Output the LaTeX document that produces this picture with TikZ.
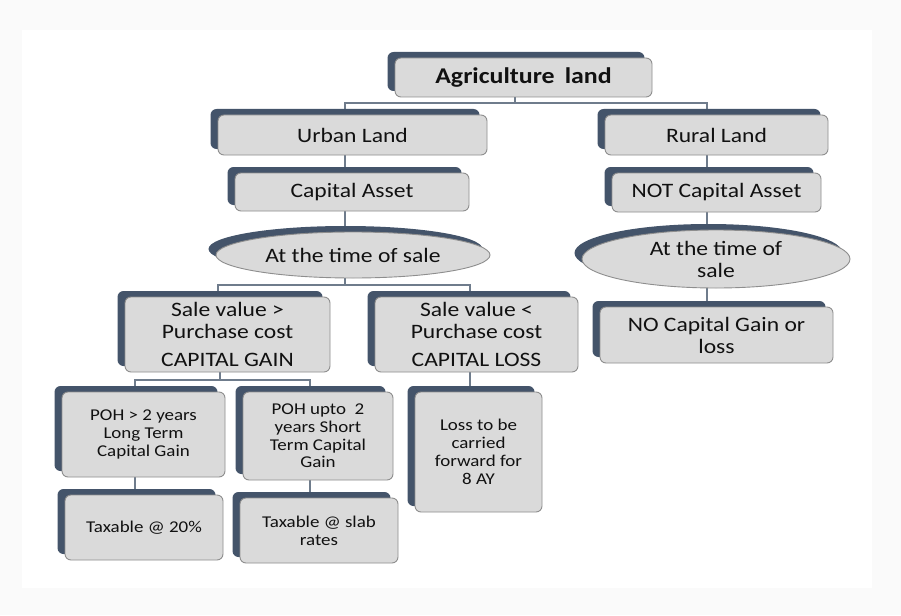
\documentclass[tikz,border=0pt]{standalone}
\usepackage{fontspec}
\setmainfont{Carlito}[FakeStretch=1.15]
\usetikzlibrary{shadows,backgrounds,shapes.geometric}
\definecolor{shadowc}{HTML}{44546A}
\definecolor{boxfill}{HTML}{DADADA}
\definecolor{boxline}{HTML}{8E8E8E}
\definecolor{linec}{HTML}{6F7C8C}
\definecolor{txt}{HTML}{111111}
\tikzset{
 base/.style={draw=boxline, line width=0.9pt, fill=boxfill, text=txt, align=center, inner sep=0pt,
   general shadow={fill=shadowc, shadow xshift=-7.5pt, shadow yshift=6pt}},
 box/.style={base, rectangle, rounded corners=6pt},
 oval/.style={base, ellipse},
 big/.style={font=\fontsize{20.5}{22}\selectfont},
 small/.style={font=\fontsize{16.5}{17.8}\selectfont},
 conn/.style={draw=linec, line width=1.1pt},
}
\begin{document}
\begin{tikzpicture}[x=1pt,y=-1pt]
\useasboundingbox (0,0) rectangle (901,615);
% nodes
\node[box, font=\fontsize{22.5}{24}\selectfont\bfseries, minimum width=257, minimum height=39] (agri) at (523.5,77.5) {Agriculture\hspace{0.45em}land};
\node[box, big, minimum width=269, minimum height=40] (urban) at (352.5,135) {Urban Land};
\node[box, big, minimum width=223, minimum height=40] (rural) at (716.5,135) {Rural Land};
\node[box, big, minimum width=234, minimum height=38] (capA) at (352,192) {Capital Asset};
\node[box, big, minimum width=209, minimum height=39] (notCap) at (716.5,192.5) {NOT Capital Asset};
\node[oval, big, minimum width=274, minimum height=46] (ellL) at (353,255) {At the time of sale};
\node[oval, big, minimum width=268, minimum height=58, inner ysep=-4pt] (ellR) at (716,259) {At the time of\\sale};
\node[box, big, minimum width=205, minimum height=75] (gain) at (227.5,334.5) {Sale value >\\Purchase cost\\[6pt]CAPITAL GAIN};
\node[box, big, minimum width=203, minimum height=75] (loss) at (476.5,334.5) {Sale value <\\Purchase cost\\[6pt]CAPITAL LOSS};
\node[box, big, minimum width=233, minimum height=56] (noCG) at (716.5,335) {NO Capital Gain or\\loss};
\node[box, small, minimum width=163, minimum height=85] (poh2) at (143.5,434.5) {POH > 2 years\\Long Term\\Capital Gain};
\node[box, small, minimum width=150, minimum height=88] (pohU) at (318,436) {POH upto\ \ 2\\years Short\\Term Capital\\Gain};
\node[box, small, minimum width=127, minimum height=120] (lossCF) at (478.5,452) {Loss to be\\carried\\forward for\\8 AY};
\node[box, small, minimum width=158, minimum height=65] (tax20) at (144,527.5) {Taxable @ 20\%};
\node[box, small, minimum width=158, minimum height=65] (taxSlab) at (319,530.5) {Taxable @ slab\\rates};
% connector coordinates
\coordinate (b1) at (515,103);
\coordinate (xL) at (345,0);
\coordinate (xR) at (707,0);
\coordinate (b2) at (345,285);
\coordinate (xG) at (218,0);
\coordinate (xLs) at (470,0);
\coordinate (b3) at (220,380);
\coordinate (xP) at (135,0);
\coordinate (xU) at (310,0);
\begin{pgfonlayer}{background}
\fill[black!2] (0,0) rectangle (901,615);
\fill[white] (22,30) rectangle (872,588);
\draw[conn] (agri.south -| b1) -- (b1);
\draw[conn] (urban.north -| xL) |- (b1) -| (rural.north -| xR);
\draw[conn] (urban.south -| xL) -- (capA.north -| xL);
\draw[conn] (capA.south -| xL) -- (ellL.north -| xL);
\draw[conn] (ellL.south -| xL) -- (b2);
\draw[conn] (gain.north -| xG) |- (b2) -| (loss.north -| xLs);
\draw[conn] (gain.south -| b3) -- (b3);
\draw[conn] (poh2.north -| xP) |- (b3) -| (pohU.north -| xU);
\draw[conn] (loss.south -| xLs) -- (lossCF.north -| xLs);
\draw[conn] (poh2.south -| xP) -- (tax20.north -| xP);
\draw[conn] (pohU.south -| xU) -- (taxSlab.north -| xU);
\draw[conn] (rural.south -| xR) -- (notCap.north -| xR);
\draw[conn] (notCap.south -| xR) -- (ellR.north -| xR);
\draw[conn] (ellR.south -| xR) -- (noCG.north -| xR);
\end{pgfonlayer}
\end{tikzpicture}
\end{document}
